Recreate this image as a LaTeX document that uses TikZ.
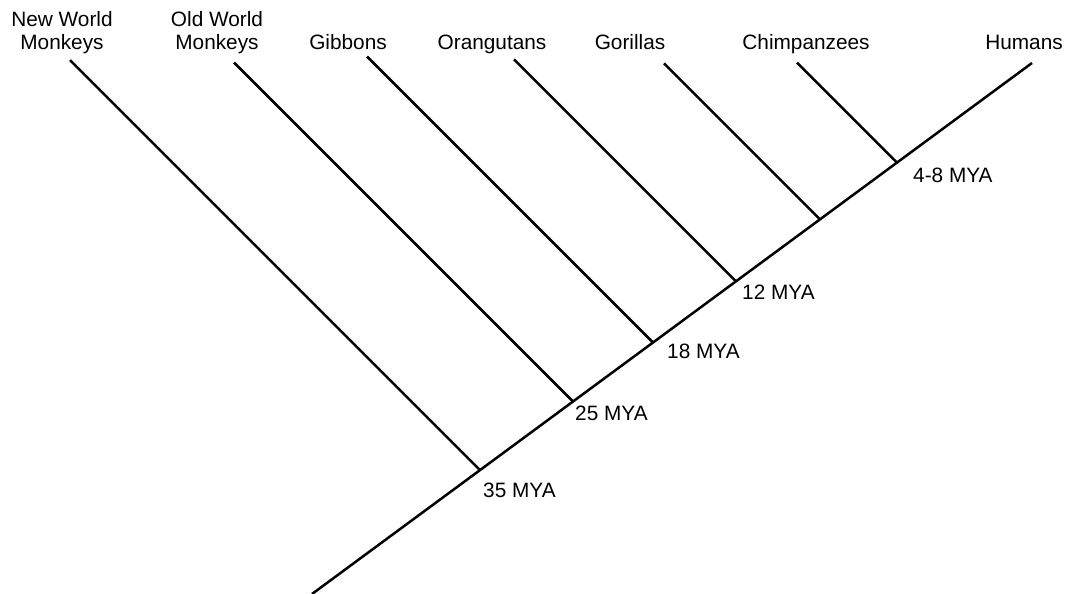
\documentclass[tikz,border=0pt]{standalone}
\usepackage{fontspec}
\setmainfont{Liberation Sans}
\begin{document}
\begin{tikzpicture}[x=1pt,y=-1pt,
  branch/.style={line width=2.5pt,line cap=butt},
  taxon/.style={font=\fontsize{20.8}{23}\selectfont,inner sep=0pt,align=center,anchor=south,text depth=0pt},
  age/.style={font=\fontsize{20.8}{23}\selectfont,inner sep=0pt,anchor=base west}]
\useasboundingbox (0,0) rectangle (1068,594);
% trunk points
\coordinate (root) at (312,594);
\coordinate (b35) at (480,470.1);
\coordinate (b25) at (573,401.5);
\coordinate (b18) at (653,342.5);
\coordinate (b12) at (736,281.3);
\coordinate (bgo) at (820,219.4);
\coordinate (bch) at (897,162.6);
\coordinate (thu) at (1032,63);
% tips
\coordinate (tnw) at (70,60.1);
\coordinate (tow) at (234,62.5);
\coordinate (tgi) at (367,56.5);
\coordinate (tor) at (514,59.3);
\coordinate (tgo) at (664,63.4);
\coordinate (tch) at (797,62.6);
% lines
\draw[branch] (root) -- (thu);
\draw[branch] (b35) -- (tnw);
\draw[branch] (b25) -- (tow);
\draw[branch] (b18) -- (tgi);
\draw[branch] (b12) -- (tor);
\draw[branch] (bgo) -- (tgo);
\draw[branch] (bch) -- (tch);
% taxon labels
\node[taxon] (lnw) at (62,50) {New World\\Monkeys};
\node[taxon] (low) at (217,50) {Old World\\Monkeys};
\node[taxon] (lgi) at (348,50) {Gibbons};
\node[taxon] (lor) at (492,50) {Orangutans};
\node[taxon] (lgo) at (630,50) {Gorillas};
\node[taxon] (lch) at (806,50) {Chimpanzees};
\node[taxon] (lhu) at (1024,50) {Humans};
% ages
\node[age] (a35) at (483,497) {35 MYA};
\node[age] (a25) at (575,420) {25 MYA};
\node[age] (a18) at (667,358) {18 MYA};
\node[age] (a12) at (742,299) {12 MYA};
\node[age] (a48) at (913,182) {4-8 MYA};
\end{tikzpicture}
\end{document}
